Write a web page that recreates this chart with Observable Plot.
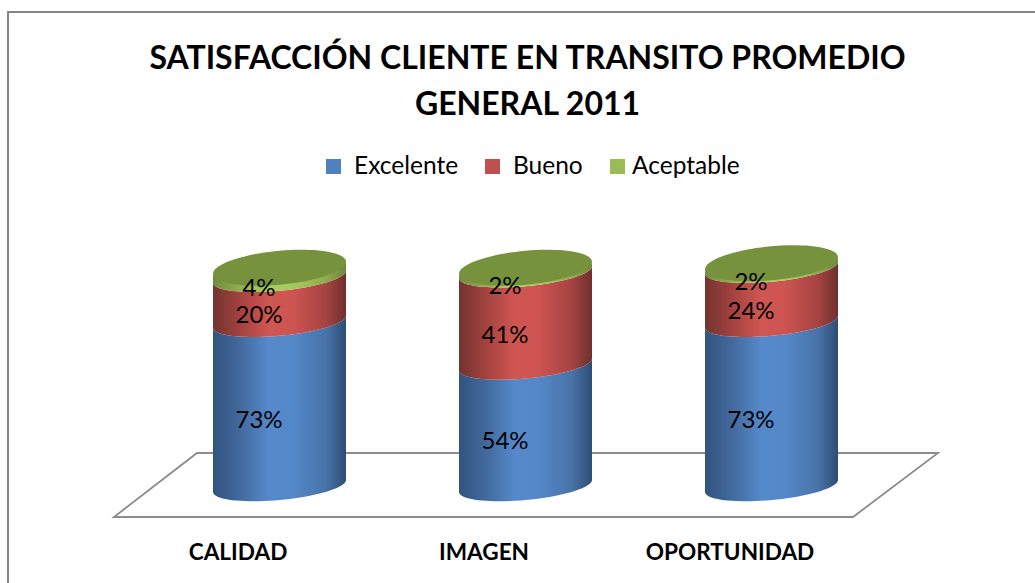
<!DOCTYPE html>
<html lang="es">
<head>
<meta charset="utf-8">
<script src="https://cdn.jsdelivr.net/npm/d3@7"></script>
<script src="https://cdn.jsdelivr.net/npm/@observablehq/plot@0.6"></script>
<style>
html,body{margin:0;padding:0;background:#fff;overflow:hidden}
#page{position:relative;width:1035px;height:583px;overflow:hidden;font-family:Lato,"Open Sans",sans-serif;color:#000}
#frameTop{position:absolute;left:7px;right:0;top:11px;height:2px;background:#868686}
#frameLeft{position:absolute;left:7px;top:11px;bottom:0;width:2px;background:#868686}
#title{position:absolute;left:19px;width:1017px;top:34px;text-align:center;font-weight:700;font-size:32px;line-height:46px}
.sw{position:absolute;top:159px;width:15px;height:15px}
.lg{position:absolute;top:150px;font-size:24.5px;line-height:30px;white-space:nowrap}
#chart{position:absolute;left:0;top:190px}
svg{display:block}
</style>
</head>
<body>
<div id="page">
  <div id="frameTop"></div><div id="frameLeft"></div>
  <div id="title">SATISFACCIÓN CLIENTE EN TRANSITO PROMEDIO<br>GENERAL 2011</div>
  <div id="legend"></div>
  <div id="chart"></div>
</div>
<script>
const categories = ["CALIDAD", "IMAGEN", "OPORTUNIDAD"];
const series = ["Excelente", "Bueno", "Aceptable"];
const excelente = [73, 54, 73];
const bueno = [20, 41, 24];
const aceptable = [4, 2, 2];
const seriesColors = ["#4f81bd", "#c0504d", "#9bbb59"];
const capColor = "#76923c";
const gradientStops = [
  ["#31547f", "#42699c", "#5589cb", "#5488c8", "#4873a8", "#2d4d74"],
  ["#73332f", "#a2423f", "#d05652", "#cd5451", "#a44341", "#6f302e"],
  ["#6f8a3e", "#90ae50", "#a9cd5f", "#a6ca5d", "#8eab4e", "#6c863c"]
];
const stopOffsets = [0, 0.2, 0.42, 0.6, 0.85, 1];

const values = [excelente, bueno, aceptable];
const rows = series.flatMap((s, i) =>
  categories.map((c, j) => ({categoria: c, serie: s, valor: values[i][j]})));

// legend
const legendLayout = [[326, 354], [485, 513], [610, 632]];
document.getElementById("legend").innerHTML = series.map((s, i) =>
  `<div class="sw" style="left:${legendLayout[i][0]}px;background:${seriesColors[i]}"></div>` +
  `<div class="lg" style="left:${legendLayout[i][1]}px">${s}</div>`).join("");

// sheared-ellipse helpers: a cylinder cross-section leaning up to the right
const tilt = 6, frontDepth = 14, capDepth = 17;
function section(cx, cy, a, b, from, to, n = 40) {
  return d3.range(n + 1).map(i => {
    const t = from + (to - from) * i / n;
    return [cx + a * Math.cos(t), cy + b * Math.sin(t) - tilt * Math.cos(t)];
  });
}
const svgNS = "http://www.w3.org/2000/svg";
function el(name, attrs) {
  const e = document.createElementNS(svgNS, name);
  for (const k in attrs) e.setAttribute(k, attrs[k]);
  return e;
}
const toPath = pts => "M" + pts.map(p => p[0].toFixed(2) + "," + p[1].toFixed(2)).join("L") + "Z";

function cylinders(index, scales, channels, dimensions) {
  const g = el("g", {});
  const defs = el("defs", {});
  series.forEach((s, i) => {
    const lg = el("linearGradient", {id: "grad" + i, x1: 0, x2: 1, y1: 0, y2: 0});
    stopOffsets.forEach((o, k) => lg.appendChild(el("stop", {offset: o, "stop-color": gradientStops[i][k]})));
    defs.appendChild(lg);
  });
  g.appendChild(defs);
  const a = scales.x.bandwidth() / 2;
  const top = new Map();
  for (const i of index) {
    const row = rows[i];
    const cx = channels.x[i] + a;
    const y1 = channels.y1[i], y2 = channels.y2[i];
    const lower = section(cx, y1, a, frontDepth, 0, Math.PI);
    const upper = section(cx, y2, a, frontDepth, Math.PI, 0);
    g.appendChild(el("path", {d: toPath(lower.concat(upper)), fill: `url(#grad${series.indexOf(row.serie)})`}));
    const cur = top.get(cx);
    if (cur === undefined || y2 < cur) top.set(cx, y2);
  }
  for (const [cx, y] of top) {
    g.appendChild(el("path", {d: toPath(section(cx, y, a, capDepth, 0, 2 * Math.PI, 80)), fill: capColor}));
  }
  return g;
}

function floor(index, scales, channels, dimensions) {
  const base = scales.y(0);
  const [r0, r1] = scales.x.range();
  const front = base + 31, back = base - 33;
  return el("path", {
    d: `M${r0 + 14},${front}L${r1 - 98},${front}L${r1 - 13},${back}L${r0 + 97},${back}Z`,
    fill: "none", stroke: "#8c8c8c", "stroke-width": 1.8
  });
}

const plot = Plot.plot({
  width: 1035,
  height: 393,
  marginLeft: 100,
  marginRight: 84,
  marginTop: 71,
  marginBottom: 97,
  style: {background: "transparent", fontFamily: "Lato, 'Open Sans', sans-serif", color: "#000"},
  x: {domain: categories, padding: 0.4593, label: null},
  y: {domain: [0, 100], axis: null},
  color: {domain: series, range: seriesColors},
  marks: [
    Plot.barY(rows.slice(0, 1), {x: "categoria", y: "valor", render: floor}),
    Plot.barY(rows, Plot.stackY({x: "categoria", y: "valor", z: "serie", fill: "serie", order: series, render: cylinders})),
    Plot.text(rows, Plot.stackY({
      x: "categoria", y: "valor", z: "serie", order: series,
      text: d => d.valor + "%",
      dx: -21, dy: 16, fontSize: 24, fill: "#000"
    })),
    Plot.axisX({tickSize: 0, dx: -42, dy: 48, fontSize: 22.6, fontWeight: 700, label: null})
  ]
});
document.getElementById("chart").appendChild(plot);
</script>
</body>
</html>
